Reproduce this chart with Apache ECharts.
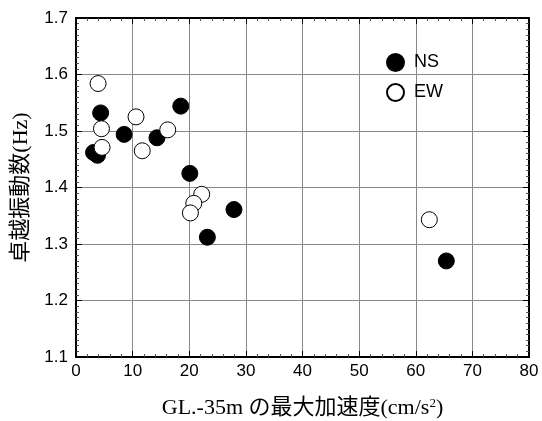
<!DOCTYPE html>
<html>
<head>
<meta charset="utf-8">
<script src="https://cdn.jsdelivr.net/npm/echarts@6/dist/echarts.min.js"></script>
<style>html,body{margin:0;padding:0;background:#fff}#c{width:542px;height:421px}</style>
</head>
<body>
<div id="c"></div>
<script>
// Peak acceleration at GL-35m (cm/s^2) vs. predominant frequency (Hz)
const nsX = [3.1, 3.8, 4.35, 8.5, 14.3, 18.5, 20.1, 23.2, 27.9, 65.4];
const nsY = [1.462, 1.457, 1.532, 1.494, 1.488, 1.544, 1.425, 1.312, 1.361, 1.270];
const ewX = [3.9, 4.5, 4.6, 10.6, 11.7, 16.2, 22.2, 20.8, 20.2, 62.4];
const ewY = [1.584, 1.504, 1.471, 1.525, 1.465, 1.502, 1.388, 1.372, 1.355, 1.343];
const xTicks = [0, 10, 20, 30, 40, 50, 60, 70, 80];
const yTicks = [1.1, 1.2, 1.3, 1.4, 1.5, 1.6, 1.7];

const pair = (xs, ys) => xs.map((x, i) => [x, ys[i]]);
const lblFont = { fontFamily: 'Liberation Sans, Arial, sans-serif', fontSize: 17, color: '#000' };
const nameFont = { fontFamily: 'Liberation Serif, Noto Sans CJK JP, serif', fontSize: 22, color: '#000' };

const baseAxis = (min, max, interval, split) => ({
  min, max, interval,
  axisLine: { show: true, onZero: false, lineStyle: { color: '#000', width: 2 } },
  axisTick: { show: true, inside: true, length: 6, lineStyle: { color: '#000' } },
  minorTick: { show: true, splitNumber: split, length: 3, lineStyle: { color: '#555' } },
  splitLine: { show: false }
});

const chart = echarts.init(document.getElementById('c'));
chart.setOption({
  animation: false,
  grid: { left: 76, right: 13, top: 18, bottom: 64, outerBoundsMode: 'none', containLabel: false },
  legend: {
    orient: 'vertical', left: 381, top: 48, itemWidth: 17, itemHeight: 17, itemGap: 11,
    textStyle: { fontFamily: 'Liberation Sans, Arial, sans-serif', fontSize: 18, color: '#000', padding: [0, 0, 0, 5] },
    data: ['NS', 'EW']
  },
  xAxis: [
    Object.assign(baseAxis(xTicks[0], xTicks[xTicks.length - 1], 10, 5), {
      type: 'value', position: 'bottom',
      splitLine: { show: true, lineStyle: { color: '#888', width: 1 } },
      axisLabel: Object.assign({ margin: 6 }, lblFont),
      name: 'GL.-35m の最大加速度(cm/s{sup|2})', nameLocation: 'middle', nameGap: 40,
      nameMoveOverlap: false,
      nameTextStyle: Object.assign({ rich: { sup: { fontSize: 13, verticalAlign: 'top', padding: [0, 0, 10, 0], fontFamily: 'Liberation Serif, serif' } } }, nameFont)
    }),
    Object.assign(baseAxis(xTicks[0], xTicks[xTicks.length - 1], 10, 5), {
      type: 'value', position: 'top', axisLabel: { show: false }
    })
  ],
  yAxis: [
    Object.assign(baseAxis(yTicks[0], yTicks[yTicks.length - 1], 0.1, 10), {
      type: 'value', position: 'left',
      splitLine: { show: true, lineStyle: { color: '#888', width: 1 } },
      axisLabel: Object.assign({ margin: 8, formatter: v => v.toFixed(1) }, lblFont),
      name: '卓越振動数(Hz)', nameLocation: 'middle', nameGap: 44, nameRotate: 90,
      nameMoveOverlap: false,
      nameTextStyle: nameFont
    }),
    Object.assign(baseAxis(yTicks[0], yTicks[yTicks.length - 1], 0.1, 10), {
      type: 'value', position: 'right', axisLabel: { show: false }
    })
  ],
  series: [
    {
      name: 'NS', type: 'scatter', symbol: 'circle', symbolSize: 16,
      itemStyle: { color: '#000', borderColor: '#000', borderWidth: 1, opacity: 1 },
      data: pair(nsX, nsY)
    },
    {
      name: 'EW', type: 'scatter', symbol: 'circle', symbolSize: 16,
      itemStyle: { color: '#fff', borderColor: '#000', borderWidth: 1, opacity: 1 },
      data: pair(ewX, ewY)
    }
  ]
});
</script>
</body>
</html>
